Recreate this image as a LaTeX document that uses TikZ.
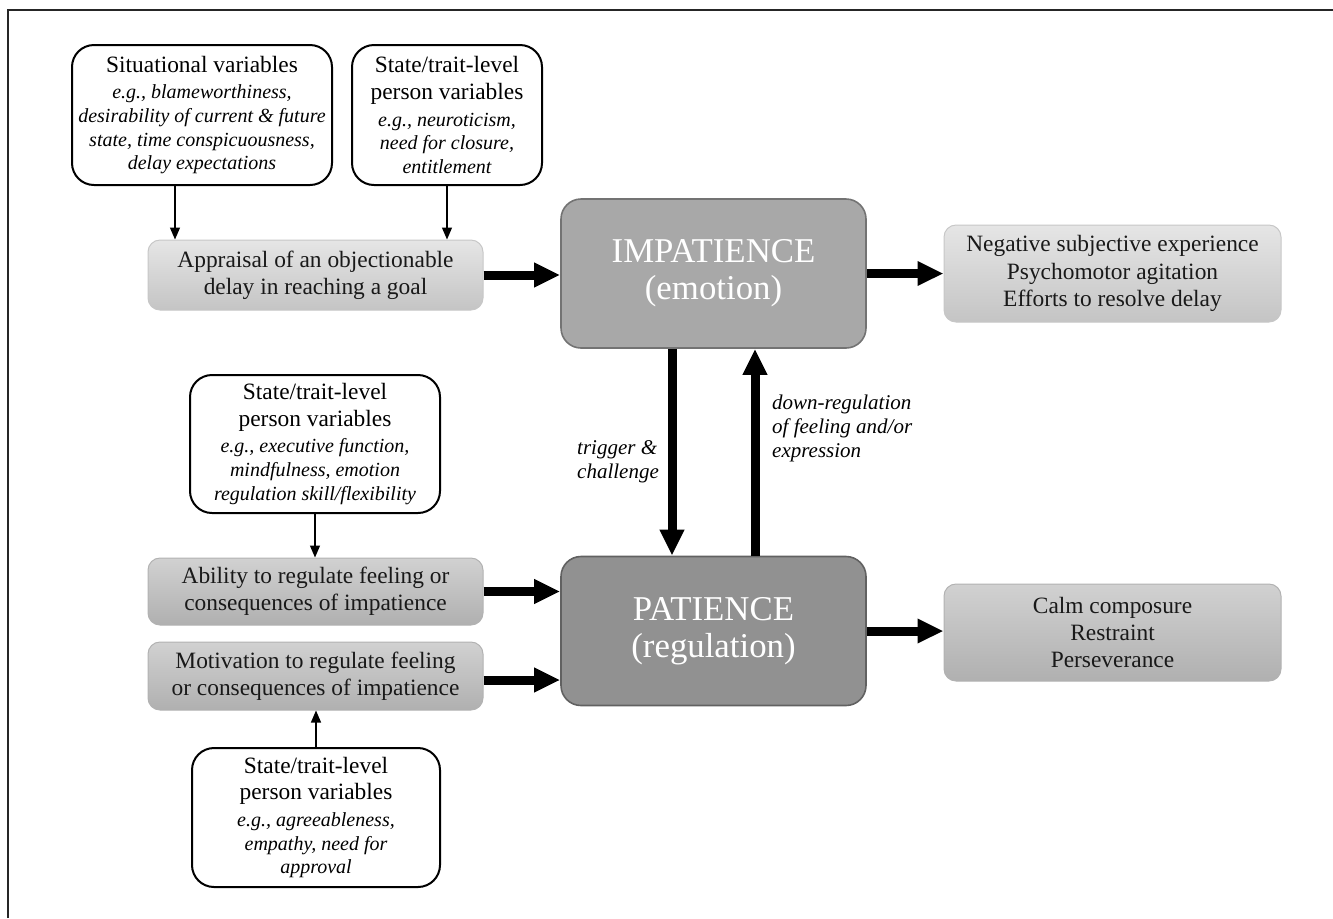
\documentclass[tikz,border=0pt]{standalone}
\usepackage{fontspec}
\setmainfont{Liberation Serif}
\usetikzlibrary{arrows.meta}

\begin{document}
\begin{tikzpicture}[x=0.5pt,y=-0.5pt]
\tikzstyle{every node}=[font=\fontsize{11.7}{13.7}\selectfont]
\tikzstyle{varbox}=[draw,line width=1pt,rounded corners=11pt,fill=white,align=center,inner sep=2pt,font=\fontsize{11.7}{11.8}\selectfont]
\tikzstyle{lightbox}=[draw=black!22,line width=0.5pt,rounded corners=6pt,top color=black!10,bottom color=black!23,align=center,text=black!90]
\tikzstyle{darkbox}=[draw=black!30,line width=0.5pt,rounded corners=6pt,top color=black!18,bottom color=black!31,align=center,text=black!90]
\tikzstyle{mainbox}=[draw=black!55,line width=0.8pt,rounded corners=10pt,align=center,text=white,font=\fontsize{17.4}{18.5}\selectfont,minimum width=152.5pt,minimum height=74.5pt]
\tikzstyle{thinarrow}=[-{Triangle[length=6pt,width=5pt]},line width=0.6pt]
\tikzstyle{thickarrow}=[-{Triangle[length=13pt,width=11.5pt]},line width=4.5pt]
\tikzstyle{note}=[align=left,font=\fontsize{10.5}{11.9}\selectfont\itshape]
\newcommand{\eg}[1]{{\fontsize{10}{11.8}\selectfont\itshape #1}}

\useasboundingbox (0,0) rectangle (1333,918);
\draw[line width=1pt,black!85] (8,918) -- (8,10) -- (1333,10);

\node[varbox,minimum width=130pt,minimum height=70pt] (sit) at (202,115)
  {Situational variables\\[1.5pt] \eg{e.g., blameworthiness,}\\ \eg{desirability of current \& future}\\ \eg{state, time conspicuousness,}\\ \eg{delay expectations}};
\node[varbox,minimum width=95pt,minimum height=70pt] (pers1) at (447,115)
  {State/trait-level\\[1.5pt] person variables\\[1.5pt] \eg{e.g., neuroticism,}\\ \eg{need for closure,}\\ \eg{entitlement}};
\node[lightbox,minimum width=167.5pt,minimum height=35pt] (appr) at (315.5,275)
  {Appraisal of an objectionable\\ delay in reaching a goal};

\node[mainbox,fill=black!34] (imp) at (713.5,273.5) {IMPATIENCE\\ (emotion)};
\node[mainbox,fill=black!43,draw=black!62] (pat) at (713.5,631) {PATIENCE\\ (regulation)};

\node[lightbox,minimum width=168.5pt,minimum height=48.5pt] (out1) at (1112.5,273.5)
  {Negative subjective experience\\ Psychomotor agitation\\ Efforts to resolve delay};
\node[darkbox,minimum width=168.5pt,minimum height=48.5pt] (out2) at (1112.5,632.5)
  {Calm composure\\ Restraint\\ Perseverance};

\node[varbox,minimum width=125pt,minimum height=69pt] (pers2) at (315,444)
  {State/trait-level\\[1.5pt] person variables\\[1.5pt] \eg{e.g., executive function,}\\ \eg{mindfulness, emotion}\\ \eg{regulation skill/flexibility}};
\node[darkbox,minimum width=167.5pt,minimum height=33.5pt] (abil) at (315.5,591.5)
  {Ability to regulate feeling or\\ consequences of impatience};
\node[darkbox,minimum width=167.5pt,minimum height=34pt] (motiv) at (315.5,676)
  {Motivation to regulate feeling\\ or consequences of impatience};
\node[varbox,minimum width=124pt,minimum height=69.5pt] (pers3) at (316,817.5)
  {State/trait-level\\[1.5pt] person variables\\[1.5pt] \eg{e.g., agreeableness,}\\ \eg{empathy, need for}\\ \eg{approval}};

\draw[thinarrow] ([xshift=-13.5pt]sit.south) -- ([xshift=-13.5pt]sit.south |- appr.north);
\draw[thinarrow] (pers1.south) -- (pers1.south |- appr.north);
\draw[thinarrow] (pers2.south) -- (pers2.south |- abil.north);
\draw[thinarrow] (pers3.north) -- (pers3.north |- motiv.south);

\draw[thickarrow] (appr.east) -- (appr.east -| imp.west);
\draw[thickarrow] (imp.east) -- (imp.east -| out1.west);
\draw[thickarrow] (abil.east) -- (abil.east -| pat.west);
\draw[thickarrow] ([yshift=-2pt]motiv.east) -- ([yshift=-2pt]motiv.east -| pat.west);
\draw[thickarrow] (pat.east) -- (pat.east -| out2.west);

\draw[thickarrow] ([xshift=-20.75pt]imp.south) -- node[note,left,pos=0.545,xshift=-1pt] (trig) {trigger \&\\ challenge} ([xshift=-20.75pt]imp.south |- pat.north);
\draw[thickarrow] ([xshift=20.75pt]pat.north) -- node[note,right,pos=0.615,xshift=3pt] (downreg) {down-regulation\\ of feeling and/or\\ expression} ([xshift=20.75pt]pat.north |- imp.south);
\end{tikzpicture}
\end{document}
